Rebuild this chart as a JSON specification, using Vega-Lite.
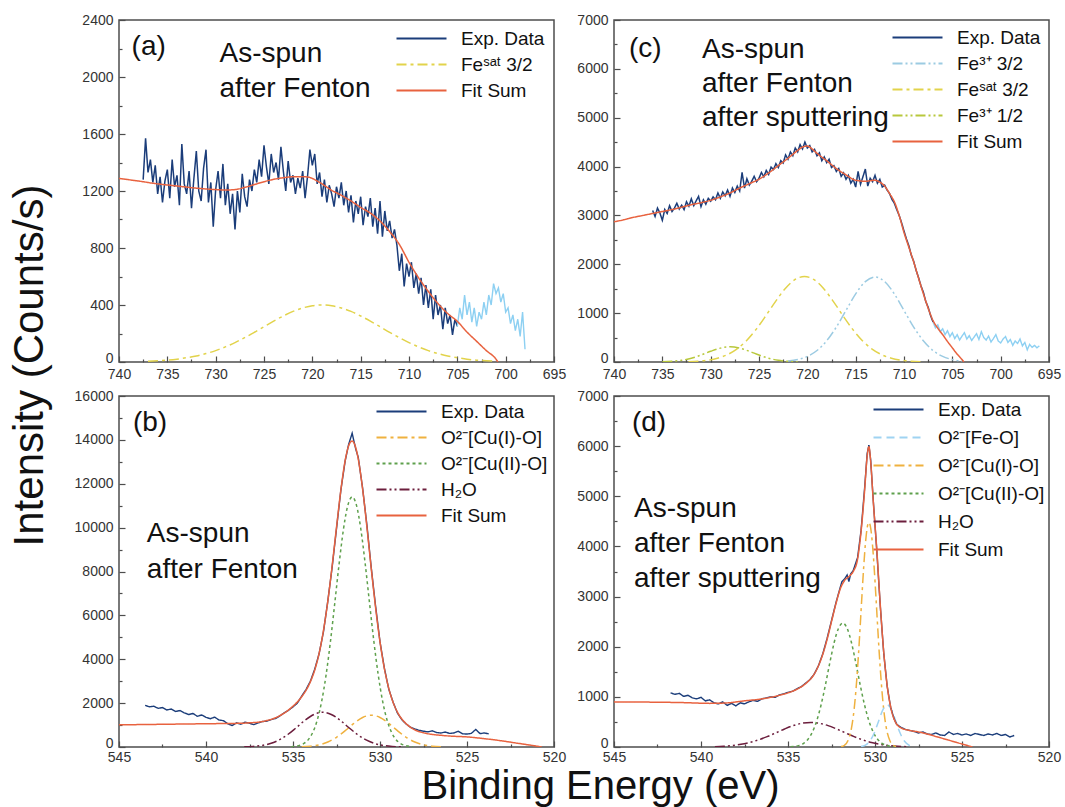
{
"$schema":"https://vega.github.io/schema/vega-lite/v6.json",
"padding":{"left":7,"top":12,"right":5,"bottom":5},
"config":{"view":{"stroke":"#4d4d4d","strokeWidth":1.5},
"axis":{"grid":false,"domain":false,"labelFont":"Liberation Sans","labelFontSize":14,"labelColor":"#333","tickColor":"#4d4d4d","tickWidth":1.2,"labelOverlap":false,"labelFlush":false},
"axisY":{"labelBaseline":{"condition":{"test":"datum.value === 0","value":"alphabetic"},"value":"middle"}},
"legend":{"labelFont":"Liberation Sans","labelFontSize":19,"labelColor":"#111","labelOffset":10,"padding":0,"rowPadding":6},
"text":{"font":"Liberation Sans"}},
"columns":2,"bounds":"flush","spacing":{"row":34,"column":60},
"resolve":{"scale":{"color":"independent","strokeDash":"independent"},"legend":{"color":"independent","strokeDash":"independent"}},
"datasets":{
"A":[
{"s":"s","x":737,"y":5},{"s":"s","x":736,"y":9},{"s":"s","x":735,"y":13},{"s":"s","x":734,"y":20},{"s":"s","x":733,"y":30},{"s":"s","x":732,"y":42},{"s":"s","x":731,"y":59},{"s":"s","x":730,"y":80},{"s":"s","x":729,"y":106},{"s":"s","x":728,"y":136},{"s":"s","x":727,"y":171},{"s":"s","x":726,"y":208},{"s":"s","x":725,"y":248},{"s":"s","x":724,"y":287},{"s":"s","x":723,"y":323},{"s":"s","x":722,"y":355},{"s":"s","x":721,"y":379},{"s":"s","x":720,"y":395},{"s":"s","x":719,"y":400},{"s":"s","x":718,"y":395},{"s":"s","x":717,"y":379},{"s":"s","x":716,"y":355},{"s":"s","x":715,"y":323},{"s":"s","x":714,"y":287},{"s":"s","x":713,"y":248},{"s":"s","x":712,"y":208},{"s":"s","x":711,"y":171},{"s":"s","x":710,"y":136},{"s":"s","x":709,"y":106},{"s":"s","x":708,"y":80},{"s":"s","x":707,"y":59},{"s":"s","x":706,"y":42},{"s":"s","x":705,"y":30},{"s":"s","x":704,"y":20},{"s":"s","x":703,"y":13},{"s":"s","x":702,"y":9},{"s":"s","x":701,"y":5},
{"s":"f","x":740,"y":1288},{"s":"f","x":738,"y":1270},{"s":"f","x":736,"y":1250},{"s":"f","x":734,"y":1235},{"s":"f","x":732,"y":1220},{"s":"f","x":730,"y":1210},{"s":"f","x":729,"y":1207},{"s":"f","x":728,"y":1210},{"s":"f","x":727,"y":1225},{"s":"f","x":726,"y":1245},{"s":"f","x":725,"y":1265},{"s":"f","x":724,"y":1282},{"s":"f","x":723,"y":1293},{"s":"f","x":722,"y":1300},{"s":"f","x":721,"y":1300},{"s":"f","x":720.3,"y":1296},{"s":"f","x":720,"y":1288},{"s":"f","x":719,"y":1250},{"s":"f","x":718,"y":1205},{"s":"f","x":717,"y":1170},{"s":"f","x":716,"y":1130},{"s":"f","x":715,"y":1085},{"s":"f","x":714,"y":1045},{"s":"f","x":713,"y":990},{"s":"f","x":712,"y":915},{"s":"f","x":711,"y":825},{"s":"f","x":710,"y":700},{"s":"f","x":709,"y":590},{"s":"f","x":708,"y":495},{"s":"f","x":707,"y":410},{"s":"f","x":706,"y":340},{"s":"f","x":705,"y":285},{"s":"f","x":704,"y":210},{"s":"f","x":703,"y":145},{"s":"f","x":702,"y":80},{"s":"f","x":701,"y":20},{"s":"f","x":700.8,"y":0},
{"s":"e","x":737.5,"y":1280},{"s":"e","x":737.25,"y":1570},{"s":"e","x":737,"y":1330},{"s":"e","x":736.75,"y":1420},{"s":"e","x":736.5,"y":1260},{"s":"e","x":736.25,"y":1380},{"s":"e","x":736,"y":1180},{"s":"e","x":735.75,"y":1300},{"s":"e","x":735.5,"y":1120},{"s":"e","x":735.25,"y":1270},{"s":"e","x":735,"y":1350},{"s":"e","x":734.75,"y":1150},{"s":"e","x":734.5,"y":1420},{"s":"e","x":734.25,"y":1230},{"s":"e","x":734,"y":1310},{"s":"e","x":733.75,"y":1100},{"s":"e","x":733.5,"y":1530},{"s":"e","x":733.25,"y":1250},{"s":"e","x":733,"y":1180},{"s":"e","x":732.75,"y":1340},{"s":"e","x":732.5,"y":1080},{"s":"e","x":732.25,"y":1290},{"s":"e","x":732,"y":1480},{"s":"e","x":731.75,"y":1200},{"s":"e","x":731.5,"y":1130},{"s":"e","x":731.25,"y":1360},{"s":"e","x":731,"y":1490},{"s":"e","x":730.75,"y":1120},{"s":"e","x":730.5,"y":1260},{"s":"e","x":730.25,"y":950},{"s":"e","x":730,"y":1210},{"s":"e","x":729.75,"y":1340},{"s":"e","x":729.5,"y":1150},{"s":"e","x":729.25,"y":1390},{"s":"e","x":729,"y":1100},{"s":"e","x":728.75,"y":1250},{"s":"e","x":728.5,"y":1040},{"s":"e","x":728.25,"y":1180},{"s":"e","x":728,"y":930},{"s":"e","x":727.75,"y":1200},{"s":"e","x":727.5,"y":1050},{"s":"e","x":727.25,"y":1320},{"s":"e","x":727,"y":1160},{"s":"e","x":726.75,"y":1090},{"s":"e","x":726.5,"y":1280},{"s":"e","x":726.25,"y":1200},{"s":"e","x":726,"y":1350},{"s":"e","x":725.75,"y":1260},{"s":"e","x":725.5,"y":1420},{"s":"e","x":725.25,"y":1300},{"s":"e","x":725,"y":1520},{"s":"e","x":724.75,"y":1370},{"s":"e","x":724.5,"y":1250},{"s":"e","x":724.25,"y":1460},{"s":"e","x":724,"y":1330},{"s":"e","x":723.75,"y":1400},{"s":"e","x":723.5,"y":1280},{"s":"e","x":723.25,"y":1510},{"s":"e","x":723,"y":1340},{"s":"e","x":722.75,"y":1200},{"s":"e","x":722.5,"y":1410},{"s":"e","x":722.25,"y":1260},{"s":"e","x":722,"y":1310},{"s":"e","x":721.75,"y":1180},{"s":"e","x":721.5,"y":1290},{"s":"e","x":721.25,"y":1220},{"s":"e","x":721,"y":1340},{"s":"e","x":720.75,"y":1150},{"s":"e","x":720.5,"y":1300},{"s":"e","x":720.25,"y":1490},{"s":"e","x":720,"y":1380},{"s":"e","x":719.75,"y":1460},{"s":"e","x":719.5,"y":1250},{"s":"e","x":719.25,"y":1330},{"s":"e","x":719,"y":1160},{"s":"e","x":718.75,"y":1280},{"s":"e","x":718.5,"y":1120},{"s":"e","x":718.25,"y":1240},{"s":"e","x":718,"y":1180},{"s":"e","x":717.75,"y":1090},{"s":"e","x":717.5,"y":1230},{"s":"e","x":717.25,"y":1150},{"s":"e","x":717,"y":1260},{"s":"e","x":716.75,"y":1100},{"s":"e","x":716.5,"y":1200},{"s":"e","x":716.25,"y":1050},{"s":"e","x":716,"y":1170},{"s":"e","x":715.75,"y":980},{"s":"e","x":715.5,"y":1130},{"s":"e","x":715.25,"y":1040},{"s":"e","x":715,"y":1160},{"s":"e","x":714.75,"y":960},{"s":"e","x":714.5,"y":1090},{"s":"e","x":714.25,"y":1020},{"s":"e","x":714,"y":1150},{"s":"e","x":713.75,"y":950},{"s":"e","x":713.5,"y":1080},{"s":"e","x":713.25,"y":900},{"s":"e","x":713,"y":1130},{"s":"e","x":712.75,"y":880},{"s":"e","x":712.5,"y":1060},{"s":"e","x":712.25,"y":920},{"s":"e","x":712,"y":990},{"s":"e","x":711.75,"y":870},{"s":"e","x":711.5,"y":930},{"s":"e","x":711.25,"y":820},{"s":"e","x":711,"y":640},{"s":"e","x":710.75,"y":760},{"s":"e","x":710.5,"y":530},{"s":"e","x":710.25,"y":690},{"s":"e","x":710,"y":600},{"s":"e","x":709.75,"y":700},{"s":"e","x":709.5,"y":520},{"s":"e","x":709.25,"y":620},{"s":"e","x":709,"y":480},{"s":"e","x":708.75,"y":590},{"s":"e","x":708.5,"y":400},{"s":"e","x":708.25,"y":540},{"s":"e","x":708,"y":380},{"s":"e","x":707.75,"y":510},{"s":"e","x":707.5,"y":300},{"s":"e","x":707.25,"y":470},{"s":"e","x":707,"y":330},{"s":"e","x":706.75,"y":400},{"s":"e","x":706.5,"y":230},{"s":"e","x":706.25,"y":380},{"s":"e","x":706,"y":270},{"s":"e","x":705.75,"y":330},{"s":"e","x":705.5,"y":190},{"s":"e","x":705.25,"y":300},{"s":"e","x":705,"y":250},
{"s":"t","x":705,"y":250},{"s":"t","x":704.75,"y":380},{"s":"t","x":704.5,"y":300},{"s":"t","x":704.25,"y":470},{"s":"t","x":704,"y":330},{"s":"t","x":703.75,"y":420},{"s":"t","x":703.5,"y":280},{"s":"t","x":703.25,"y":380},{"s":"t","x":703,"y":250},{"s":"t","x":702.75,"y":350},{"s":"t","x":702.5,"y":300},{"s":"t","x":702.25,"y":420},{"s":"t","x":702,"y":330},{"s":"t","x":701.75,"y":470},{"s":"t","x":701.5,"y":400},{"s":"t","x":701.25,"y":550},{"s":"t","x":701,"y":480},{"s":"t","x":700.75,"y":520},{"s":"t","x":700.5,"y":420},{"s":"t","x":700.25,"y":480},{"s":"t","x":700,"y":350},{"s":"t","x":699.75,"y":380},{"s":"t","x":699.5,"y":270},{"s":"t","x":699.25,"y":330},{"s":"t","x":699,"y":220},{"s":"t","x":698.75,"y":300},{"s":"t","x":698.5,"y":180},{"s":"t","x":698.25,"y":350},{"s":"t","x":698,"y":90}
],
"C":[
{"s":"a","x":722,"y":19},{"s":"a","x":721,"y":50},{"s":"a","x":720,"y":114},{"s":"a","x":719,"y":235},{"s":"a","x":718,"y":434},{"s":"a","x":717,"y":715},{"s":"a","x":716,"y":1055},{"s":"a","x":715,"y":1394},{"s":"a","x":714,"y":1646},{"s":"a","x":713,"y":1740},{"s":"a","x":712,"y":1646},{"s":"a","x":711,"y":1394},{"s":"a","x":710,"y":1055},{"s":"a","x":709,"y":715},{"s":"a","x":708,"y":434},{"s":"a","x":707,"y":235},{"s":"a","x":706,"y":114},{"s":"a","x":705,"y":50},{"s":"a","x":704,"y":19},
{"s":"s","x":732.3,"y":7},{"s":"s","x":731.3,"y":16},{"s":"s","x":730.3,"y":37},{"s":"s","x":729.3,"y":77},{"s":"s","x":728.3,"y":148},{"s":"s","x":727.3,"y":264},{"s":"s","x":726.3,"y":436},{"s":"s","x":725.3,"y":667},{"s":"s","x":724.3,"y":944},{"s":"s","x":723.3,"y":1237},{"s":"s","x":722.3,"y":1500},{"s":"s","x":721.3,"y":1684},{"s":"s","x":720.3,"y":1750},{"s":"s","x":719.3,"y":1684},{"s":"s","x":718.3,"y":1500},{"s":"s","x":717.3,"y":1237},{"s":"s","x":716.3,"y":944},{"s":"s","x":715.3,"y":667},{"s":"s","x":714.3,"y":436},{"s":"s","x":713.3,"y":264},{"s":"s","x":712.3,"y":148},{"s":"s","x":711.3,"y":77},{"s":"s","x":710.3,"y":37},{"s":"s","x":709.3,"y":16},{"s":"s","x":708.3,"y":7},
{"s":"b","x":735,"y":4},{"s":"b","x":734,"y":14},{"s":"b","x":733,"y":35},{"s":"b","x":732,"y":77},{"s":"b","x":731,"y":142},{"s":"b","x":730,"y":219},{"s":"b","x":729,"y":284},{"s":"b","x":728,"y":310},{"s":"b","x":727,"y":284},{"s":"b","x":726,"y":219},{"s":"b","x":725,"y":142},{"s":"b","x":724,"y":77},{"s":"b","x":723,"y":35},{"s":"b","x":722,"y":14},{"s":"b","x":721,"y":4},
{"s":"f","x":740,"y":2870},{"s":"f","x":739,"y":2910},{"s":"f","x":738,"y":2960},{"s":"f","x":737,"y":3000},{"s":"f","x":736,"y":3040},{"s":"f","x":735,"y":3080},{"s":"f","x":734,"y":3120},{"s":"f","x":733,"y":3170},{"s":"f","x":732,"y":3220},{"s":"f","x":731,"y":3260},{"s":"f","x":730,"y":3310},{"s":"f","x":729,"y":3380},{"s":"f","x":728,"y":3460},{"s":"f","x":727,"y":3560},{"s":"f","x":726,"y":3650},{"s":"f","x":725,"y":3740},{"s":"f","x":724,"y":3870},{"s":"f","x":723,"y":4020},{"s":"f","x":722,"y":4170},{"s":"f","x":721,"y":4330},{"s":"f","x":720.5,"y":4400},{"s":"f","x":720,"y":4420},{"s":"f","x":719.5,"y":4360},{"s":"f","x":719,"y":4270},{"s":"f","x":718,"y":4120},{"s":"f","x":717,"y":3960},{"s":"f","x":716,"y":3830},{"s":"f","x":715,"y":3720},{"s":"f","x":714,"y":3700},{"s":"f","x":713,"y":3720},{"s":"f","x":712.5,"y":3680},{"s":"f","x":712,"y":3600},{"s":"f","x":711.5,"y":3450},{"s":"f","x":711,"y":3280},{"s":"f","x":710.5,"y":3000},{"s":"f","x":710,"y":2650},{"s":"f","x":709.5,"y":2350},{"s":"f","x":709,"y":2050},{"s":"f","x":708.5,"y":1720},{"s":"f","x":708,"y":1400},{"s":"f","x":707.5,"y":1100},{"s":"f","x":707,"y":850},{"s":"f","x":706.5,"y":690},{"s":"f","x":706,"y":560},{"s":"f","x":705.5,"y":420},{"s":"f","x":705,"y":290},{"s":"f","x":704.5,"y":160},{"s":"f","x":704,"y":50},{"s":"f","x":703.8,"y":0},
{"s":"e","x":736,"y":3100},{"s":"e","x":735.75,"y":2980},{"s":"e","x":735.5,"y":3150},{"s":"e","x":735.25,"y":3050},{"s":"e","x":735,"y":2900},{"s":"e","x":734.75,"y":3120},{"s":"e","x":734.5,"y":3040},{"s":"e","x":734.25,"y":3200},{"s":"e","x":734,"y":3080},{"s":"e","x":733.75,"y":3150},{"s":"e","x":733.5,"y":3250},{"s":"e","x":733.25,"y":3130},{"s":"e","x":733,"y":3210},{"s":"e","x":732.75,"y":3120},{"s":"e","x":732.5,"y":3280},{"s":"e","x":732.25,"y":3190},{"s":"e","x":732,"y":3340},{"s":"e","x":731.75,"y":3200},{"s":"e","x":731.5,"y":3300},{"s":"e","x":731.25,"y":3390},{"s":"e","x":731,"y":3180},{"s":"e","x":730.75,"y":3320},{"s":"e","x":730.5,"y":3230},{"s":"e","x":730.25,"y":3350},{"s":"e","x":730,"y":3290},{"s":"e","x":729.75,"y":3380},{"s":"e","x":729.5,"y":3320},{"s":"e","x":729.25,"y":3460},{"s":"e","x":729,"y":3350},{"s":"e","x":728.75,"y":3480},{"s":"e","x":728.5,"y":3400},{"s":"e","x":728.25,"y":3520},{"s":"e","x":728,"y":3390},{"s":"e","x":727.75,"y":3560},{"s":"e","x":727.5,"y":3470},{"s":"e","x":727.25,"y":3600},{"s":"e","x":727,"y":3500},{"s":"e","x":726.75,"y":3880},{"s":"e","x":726.5,"y":3560},{"s":"e","x":726.25,"y":3750},{"s":"e","x":726,"y":3620},{"s":"e","x":725.75,"y":3700},{"s":"e","x":725.5,"y":3800},{"s":"e","x":725.25,"y":3690},{"s":"e","x":725,"y":3760},{"s":"e","x":724.75,"y":3880},{"s":"e","x":724.5,"y":3790},{"s":"e","x":724.25,"y":3920},{"s":"e","x":724,"y":3840},{"s":"e","x":723.75,"y":3990},{"s":"e","x":723.5,"y":3940},{"s":"e","x":723.25,"y":4060},{"s":"e","x":723,"y":3980},{"s":"e","x":722.75,"y":4120},{"s":"e","x":722.5,"y":4070},{"s":"e","x":722.25,"y":4240},{"s":"e","x":722,"y":4150},{"s":"e","x":721.75,"y":4300},{"s":"e","x":721.5,"y":4220},{"s":"e","x":721.25,"y":4380},{"s":"e","x":721,"y":4300},{"s":"e","x":720.75,"y":4450},{"s":"e","x":720.5,"y":4360},{"s":"e","x":720.25,"y":4500},{"s":"e","x":720,"y":4380},{"s":"e","x":719.75,"y":4430},{"s":"e","x":719.5,"y":4300},{"s":"e","x":719.25,"y":4350},{"s":"e","x":719,"y":4220},{"s":"e","x":718.75,"y":4280},{"s":"e","x":718.5,"y":4120},{"s":"e","x":718.25,"y":4200},{"s":"e","x":718,"y":4080},{"s":"e","x":717.75,"y":4150},{"s":"e","x":717.5,"y":3980},{"s":"e","x":717.25,"y":4020},{"s":"e","x":717,"y":3900},{"s":"e","x":716.75,"y":3960},{"s":"e","x":716.5,"y":3800},{"s":"e","x":716.25,"y":3870},{"s":"e","x":716,"y":3740},{"s":"e","x":715.75,"y":3820},{"s":"e","x":715.5,"y":3660},{"s":"e","x":715.25,"y":3740},{"s":"e","x":715,"y":3580},{"s":"e","x":714.75,"y":3900},{"s":"e","x":714.5,"y":3640},{"s":"e","x":714.25,"y":3790},{"s":"e","x":714,"y":3950},{"s":"e","x":713.75,"y":3600},{"s":"e","x":713.5,"y":3760},{"s":"e","x":713.25,"y":3690},{"s":"e","x":713,"y":3820},{"s":"e","x":712.75,"y":3660},{"s":"e","x":712.5,"y":3740},{"s":"e","x":712.25,"y":3580},{"s":"e","x":712,"y":3620},{"s":"e","x":711.75,"y":3520},{"s":"e","x":711.5,"y":3450},{"s":"e","x":711.25,"y":3330},{"s":"e","x":711,"y":3250},{"s":"e","x":710.75,"y":3120},{"s":"e","x":710.5,"y":3000},{"s":"e","x":710.25,"y":2850},{"s":"e","x":710,"y":2680},{"s":"e","x":709.75,"y":2520},{"s":"e","x":709.5,"y":2380},{"s":"e","x":709.25,"y":2190},{"s":"e","x":709,"y":2060},{"s":"e","x":708.75,"y":1880},{"s":"e","x":708.5,"y":1730},{"s":"e","x":708.25,"y":1560},{"s":"e","x":708,"y":1430},{"s":"e","x":707.75,"y":1240},{"s":"e","x":707.5,"y":1120},{"s":"e","x":707.25,"y":950},{"s":"e","x":707,"y":820},
{"s":"t","x":707,"y":820},{"s":"t","x":706.75,"y":700},{"s":"t","x":706.5,"y":760},{"s":"t","x":706.25,"y":620},{"s":"t","x":706,"y":680},{"s":"t","x":705.75,"y":560},{"s":"t","x":705.5,"y":640},{"s":"t","x":705.25,"y":520},{"s":"t","x":705,"y":600},{"s":"t","x":704.75,"y":480},{"s":"t","x":704.5,"y":560},{"s":"t","x":704.25,"y":450},{"s":"t","x":704,"y":530},{"s":"t","x":703.75,"y":600},{"s":"t","x":703.5,"y":470},{"s":"t","x":703.25,"y":540},{"s":"t","x":703,"y":440},{"s":"t","x":702.75,"y":510},{"s":"t","x":702.5,"y":580},{"s":"t","x":702.25,"y":460},{"s":"t","x":702,"y":620},{"s":"t","x":701.75,"y":500},{"s":"t","x":701.5,"y":450},{"s":"t","x":701.25,"y":530},{"s":"t","x":701,"y":410},{"s":"t","x":700.75,"y":480},{"s":"t","x":700.5,"y":560},{"s":"t","x":700.25,"y":430},{"s":"t","x":700,"y":390},{"s":"t","x":699.75,"y":470},{"s":"t","x":699.5,"y":520},{"s":"t","x":699.25,"y":400},{"s":"t","x":699,"y":460},{"s":"t","x":698.75,"y":340},{"s":"t","x":698.5,"y":430},{"s":"t","x":698.25,"y":380},{"s":"t","x":698,"y":470},{"s":"t","x":697.75,"y":330},{"s":"t","x":697.5,"y":400},{"s":"t","x":697.25,"y":250},{"s":"t","x":697,"y":360},{"s":"t","x":696.75,"y":300},{"s":"t","x":696.5,"y":340},{"s":"t","x":696.25,"y":290},{"s":"t","x":696,"y":330}
],
"B":[
{"s":"u","x":534.5,"y":13},{"s":"u","x":534,"y":39},{"s":"u","x":533.5,"y":101},{"s":"u","x":533,"y":228},{"s":"u","x":532.5,"y":444},{"s":"u","x":532,"y":745},{"s":"u","x":531.5,"y":1078},{"s":"u","x":531,"y":1347},{"s":"u","x":530.5,"y":1450},{"s":"u","x":530,"y":1347},{"s":"u","x":529.5,"y":1078},{"s":"u","x":529,"y":745},{"s":"u","x":528.5,"y":444},{"s":"u","x":528,"y":228},{"s":"u","x":527.5,"y":101},{"s":"u","x":527,"y":39},{"s":"u","x":526.5,"y":13},
{"s":"w","x":535.1,"y":13},{"s":"w","x":534.6,"y":78},{"s":"w","x":534.35,"y":172},{"s":"w","x":534.1,"y":357},{"s":"w","x":533.85,"y":690},{"s":"w","x":533.6,"y":1243},{"s":"w","x":533.35,"y":2090},{"s":"w","x":533.1,"y":3278},{"s":"w","x":532.85,"y":4797},{"s":"w","x":532.6,"y":6552},{"s":"w","x":532.35,"y":8348},{"s":"w","x":532.1,"y":9926},{"s":"w","x":531.85,"y":11012},{"s":"w","x":531.6,"y":11400},{"s":"w","x":531.35,"y":11012},{"s":"w","x":531.1,"y":9926},{"s":"w","x":530.85,"y":8348},{"s":"w","x":530.6,"y":6552},{"s":"w","x":530.35,"y":4797},{"s":"w","x":530.1,"y":3278},{"s":"w","x":529.85,"y":2090},{"s":"w","x":529.6,"y":1243},{"s":"w","x":529.35,"y":690},{"s":"w","x":529.1,"y":357},{"s":"w","x":528.85,"y":172},{"s":"w","x":528.6,"y":78},{"s":"w","x":528.1,"y":13},
{"s":"h","x":537.8,"y":9},{"s":"h","x":537.3,"y":27},{"s":"h","x":536.8,"y":69},{"s":"h","x":536.3,"y":159},{"s":"h","x":535.8,"y":321},{"s":"h","x":535.3,"y":570},{"s":"h","x":534.8,"y":890},{"s":"h","x":534.3,"y":1224},{"s":"h","x":533.8,"y":1482},{"s":"h","x":533.3,"y":1580},{"s":"h","x":532.8,"y":1482},{"s":"h","x":532.3,"y":1224},{"s":"h","x":531.8,"y":890},{"s":"h","x":531.3,"y":570},{"s":"h","x":530.8,"y":321},{"s":"h","x":530.3,"y":159},{"s":"h","x":529.8,"y":69},{"s":"h","x":529.3,"y":27},{"s":"h","x":528.8,"y":9},
{"s":"f","x":545,"y":1010},{"s":"f","x":543,"y":1030},{"s":"f","x":541,"y":1050},{"s":"f","x":539,"y":1070},{"s":"f","x":538,"y":1082},{"s":"f","x":537.5,"y":1102},{"s":"f","x":537,"y":1133},{"s":"f","x":536.5,"y":1206},{"s":"f","x":536,"y":1336},{"s":"f","x":535.5,"y":1548},{"s":"f","x":535,"y":1859},{"s":"f","x":534.5,"y":2292},{"s":"f","x":534,"y":2977},{"s":"f","x":533.75,"y":3512},{"s":"f","x":533.5,"y":4268},{"s":"f","x":533.25,"y":5303},{"s":"f","x":533,"y":6641},{"s":"f","x":532.75,"y":8256},{"s":"f","x":532.5,"y":10014},{"s":"f","x":532.25,"y":11705},{"s":"f","x":532,"y":13065},{"s":"f","x":531.8,"y":13734},{"s":"f","x":531.6,"y":13950},{"s":"f","x":531.4,"y":13660},{"s":"f","x":531.25,"y":13129},{"s":"f","x":531,"y":11766},{"s":"f","x":530.75,"y":10008},{"s":"f","x":530.5,"y":8115},{"s":"f","x":530.25,"y":6328},{"s":"f","x":530,"y":4795},{"s":"f","x":529.75,"y":3584},{"s":"f","x":529.5,"y":2683},{"s":"f","x":529.25,"y":2042},{"s":"f","x":529,"y":1593},{"s":"f","x":528.5,"y":1064},{"s":"f","x":528,"y":784},{"s":"f","x":527.5,"y":646},{"s":"f","x":527,"y":574},{"s":"f","x":526.5,"y":533},{"s":"f","x":526,"y":500},{"s":"f","x":525,"y":460},{"s":"f","x":524,"y":380},{"s":"f","x":523,"y":280},{"s":"f","x":522,"y":160},{"s":"f","x":521,"y":40},{"s":"f","x":520.7,"y":0},
{"s":"e","x":543.5,"y":1900},{"s":"e","x":543.25,"y":1830},{"s":"e","x":543,"y":1860},{"s":"e","x":542.75,"y":1760},{"s":"e","x":542.5,"y":1800},{"s":"e","x":542.25,"y":1690},{"s":"e","x":542,"y":1730},{"s":"e","x":541.75,"y":1620},{"s":"e","x":541.5,"y":1660},{"s":"e","x":541.25,"y":1560},{"s":"e","x":541,"y":1480},{"s":"e","x":540.75,"y":1530},{"s":"e","x":540.5,"y":1400},{"s":"e","x":540.25,"y":1460},{"s":"e","x":540,"y":1350},{"s":"e","x":539.75,"y":1290},{"s":"e","x":539.5,"y":1360},{"s":"e","x":539.25,"y":1230},{"s":"e","x":539,"y":1200},{"s":"e","x":538.75,"y":1060},{"s":"e","x":538.5,"y":980},{"s":"e","x":538.25,"y":1100},{"s":"e","x":538,"y":1040},{"s":"e","x":537.75,"y":1130},{"s":"e","x":537.5,"y":1080},{"s":"e","x":537.25,"y":1020},{"s":"e","x":537,"y":1100},{"s":"e","x":536.75,"y":1160},{"s":"e","x":536.5,"y":1180},{"s":"e","x":536.25,"y":1250},{"s":"e","x":536,"y":1300},{"s":"e","x":535.75,"y":1420},{"s":"e","x":535.5,"y":1560},{"s":"e","x":535.25,"y":1680},{"s":"e","x":535,"y":1830},{"s":"e","x":534.75,"y":2000},{"s":"e","x":534.5,"y":2320},{"s":"e","x":534.25,"y":2620},{"s":"e","x":534,"y":3000},{"s":"e","x":533.75,"y":3550},{"s":"e","x":533.5,"y":4250},{"s":"e","x":533.25,"y":5250},{"s":"e","x":533,"y":6650},{"s":"e","x":532.75,"y":8200},{"s":"e","x":532.5,"y":9950},{"s":"e","x":532.25,"y":11700},{"s":"e","x":532,"y":13050},{"s":"e","x":531.8,"y":13800},{"s":"e","x":531.6,"y":14300},{"s":"e","x":531.4,"y":13600},{"s":"e","x":531.25,"y":13200},{"s":"e","x":531,"y":11800},{"s":"e","x":530.75,"y":10100},{"s":"e","x":530.5,"y":8150},{"s":"e","x":530.25,"y":6400},{"s":"e","x":530,"y":4800},{"s":"e","x":529.75,"y":3600},{"s":"e","x":529.5,"y":2650},{"s":"e","x":529.25,"y":2050},{"s":"e","x":529,"y":1550},{"s":"e","x":528.75,"y":1250},{"s":"e","x":528.5,"y":1050},{"s":"e","x":528.25,"y":900},{"s":"e","x":528,"y":820},{"s":"e","x":527.75,"y":760},{"s":"e","x":527.5,"y":720},{"s":"e","x":527.25,"y":690},{"s":"e","x":527,"y":740},{"s":"e","x":526.75,"y":660},{"s":"e","x":526.5,"y":640},{"s":"e","x":526.25,"y":680},{"s":"e","x":526,"y":620},{"s":"e","x":525.75,"y":640},{"s":"e","x":525.5,"y":720},{"s":"e","x":525.25,"y":600},{"s":"e","x":525,"y":590},{"s":"e","x":524.75,"y":620},{"s":"e","x":524.5,"y":800},{"s":"e","x":524.25,"y":610},{"s":"e","x":524,"y":640},{"s":"e","x":523.75,"y":600}
],
"D":[
{"s":"h","x":539.2,"y":7},{"s":"h","x":538.7,"y":15},{"s":"h","x":538.2,"y":30},{"s":"h","x":537.7,"y":53},{"s":"h","x":537.2,"y":90},{"s":"h","x":536.7,"y":141},{"s":"h","x":536.2,"y":206},{"s":"h","x":535.7,"y":282},{"s":"h","x":535.2,"y":359},{"s":"h","x":534.7,"y":427},{"s":"h","x":534.2,"y":473},{"s":"h","x":533.7,"y":490},{"s":"h","x":533.2,"y":473},{"s":"h","x":532.7,"y":427},{"s":"h","x":532.2,"y":359},{"s":"h","x":531.7,"y":282},{"s":"h","x":531.2,"y":206},{"s":"h","x":530.7,"y":141},{"s":"h","x":530.2,"y":90},{"s":"h","x":529.7,"y":53},{"s":"h","x":529.2,"y":30},{"s":"h","x":528.7,"y":15},{"s":"h","x":528.2,"y":7},
{"s":"w","x":534.85,"y":5},{"s":"w","x":534.6,"y":13},{"s":"w","x":534.35,"y":33},{"s":"w","x":534.1,"y":74},{"s":"w","x":533.85,"y":155},{"s":"w","x":533.6,"y":297},{"s":"w","x":533.35,"y":521},{"s":"w","x":533.1,"y":838},{"s":"w","x":532.85,"y":1236},{"s":"w","x":532.6,"y":1674},{"s":"w","x":532.35,"y":2078},{"s":"w","x":532.1,"y":2365},{"s":"w","x":531.85,"y":2470},{"s":"w","x":531.6,"y":2365},{"s":"w","x":531.35,"y":2078},{"s":"w","x":531.1,"y":1674},{"s":"w","x":530.85,"y":1236},{"s":"w","x":530.6,"y":838},{"s":"w","x":530.35,"y":521},{"s":"w","x":530.1,"y":297},{"s":"w","x":529.85,"y":155},{"s":"w","x":529.6,"y":74},{"s":"w","x":529.35,"y":33},{"s":"w","x":529.1,"y":13},{"s":"w","x":528.85,"y":5},
{"s":"u","x":531.95,"y":8},{"s":"u","x":531.75,"y":35},{"s":"u","x":531.55,"y":128},{"s":"u","x":531.35,"y":380},{"s":"u","x":531.25,"y":606},{"s":"u","x":531.15,"y":922},{"s":"u","x":531.05,"y":1336},{"s":"u","x":530.95,"y":1842},{"s":"u","x":530.85,"y":2417},{"s":"u","x":530.75,"y":3018},{"s":"u","x":530.65,"y":3587},{"s":"u","x":530.55,"y":4059},{"s":"u","x":530.45,"y":4371},{"s":"u","x":530.35,"y":4480},{"s":"u","x":530.25,"y":4371},{"s":"u","x":530.15,"y":4059},{"s":"u","x":530.05,"y":3587},{"s":"u","x":529.95,"y":3018},{"s":"u","x":529.85,"y":2417},{"s":"u","x":529.75,"y":1842},{"s":"u","x":529.65,"y":1336},{"s":"u","x":529.55,"y":922},{"s":"u","x":529.45,"y":606},{"s":"u","x":529.35,"y":380},{"s":"u","x":529.15,"y":128},{"s":"u","x":528.95,"y":35},{"s":"u","x":528.75,"y":8},
{"s":"o","x":530.8,"y":9},{"s":"o","x":530.55,"y":37},{"s":"o","x":530.3,"y":114},{"s":"o","x":530.05,"y":273},{"s":"o","x":529.8,"y":509},{"s":"o","x":529.55,"y":741},{"s":"o","x":529.3,"y":840},{"s":"o","x":529.05,"y":741},{"s":"o","x":528.8,"y":509},{"s":"o","x":528.55,"y":273},{"s":"o","x":528.3,"y":114},{"s":"o","x":528.05,"y":37},{"s":"o","x":527.8,"y":9},
{"s":"f","x":545,"y":900},{"s":"f","x":543,"y":895},{"s":"f","x":541,"y":885},{"s":"f","x":539.5,"y":870},{"s":"f","x":538.5,"y":880},{"s":"f","x":537.5,"y":920},{"s":"f","x":536.5,"y":960},{"s":"f","x":536,"y":990},{"s":"f","x":535.5,"y":1030},{"s":"f","x":535,"y":1080},{"s":"f","x":534.5,"y":1150},{"s":"f","x":534,"y":1260},{"s":"f","x":533.5,"y":1450},{"s":"f","x":533.25,"y":1620},{"s":"f","x":533,"y":1850},{"s":"f","x":532.75,"y":2150},{"s":"f","x":532.5,"y":2500},{"s":"f","x":532.25,"y":2850},{"s":"f","x":532,"y":3150},{"s":"f","x":531.75,"y":3320},{"s":"f","x":531.5,"y":3400},{"s":"f","x":531.25,"y":3500},{"s":"f","x":531,"y":3750},{"s":"f","x":530.8,"y":4300},{"s":"f","x":530.6,"y":5100},{"s":"f","x":530.45,"y":5800},{"s":"f","x":530.35,"y":5990},{"s":"f","x":530.25,"y":5700},{"s":"f","x":530.1,"y":4900},{"s":"f","x":529.9,"y":3950},{"s":"f","x":529.7,"y":2850},{"s":"f","x":529.5,"y":1900},{"s":"f","x":529.3,"y":1220},{"s":"f","x":529.1,"y":800},{"s":"f","x":528.8,"y":480},{"s":"f","x":528.5,"y":380},{"s":"f","x":528,"y":330},{"s":"f","x":527.5,"y":300},{"s":"f","x":527,"y":260},{"s":"f","x":526.5,"y":210},{"s":"f","x":526,"y":160},{"s":"f","x":525.5,"y":110},{"s":"f","x":525,"y":60},{"s":"f","x":524.4,"y":0},
{"s":"e","x":541.75,"y":1080},{"s":"e","x":541.5,"y":1050},{"s":"e","x":541.25,"y":1070},{"s":"e","x":541,"y":1010},{"s":"e","x":540.75,"y":1030},{"s":"e","x":540.5,"y":980},{"s":"e","x":540.25,"y":960},{"s":"e","x":540,"y":990},{"s":"e","x":539.75,"y":920},{"s":"e","x":539.5,"y":940},{"s":"e","x":539.25,"y":880},{"s":"e","x":539,"y":860},{"s":"e","x":538.75,"y":900},{"s":"e","x":538.5,"y":830},{"s":"e","x":538.25,"y":870},{"s":"e","x":538,"y":820},{"s":"e","x":537.75,"y":880},{"s":"e","x":537.5,"y":860},{"s":"e","x":537.25,"y":900},{"s":"e","x":537,"y":930},{"s":"e","x":536.75,"y":910},{"s":"e","x":536.5,"y":960},{"s":"e","x":536.25,"y":980},{"s":"e","x":536,"y":1000},{"s":"e","x":535.75,"y":990},{"s":"e","x":535.5,"y":1040},{"s":"e","x":535.25,"y":1060},{"s":"e","x":535,"y":1090},{"s":"e","x":534.75,"y":1110},{"s":"e","x":534.5,"y":1160},{"s":"e","x":534.25,"y":1200},{"s":"e","x":534,"y":1270},{"s":"e","x":533.75,"y":1340},{"s":"e","x":533.5,"y":1450},{"s":"e","x":533.25,"y":1620},{"s":"e","x":533,"y":1860},{"s":"e","x":532.75,"y":2170},{"s":"e","x":532.5,"y":2520},{"s":"e","x":532.25,"y":2870},{"s":"e","x":532,"y":3180},{"s":"e","x":531.9,"y":3300},{"s":"e","x":531.75,"y":3350},{"s":"e","x":531.6,"y":3430},{"s":"e","x":531.5,"y":3300},{"s":"e","x":531.4,"y":3450},{"s":"e","x":531.25,"y":3520},{"s":"e","x":531,"y":3780},{"s":"e","x":530.8,"y":4320},{"s":"e","x":530.6,"y":5150},{"s":"e","x":530.45,"y":5850},{"s":"e","x":530.35,"y":6020},{"s":"e","x":530.25,"y":5730},{"s":"e","x":530.1,"y":4920},{"s":"e","x":529.9,"y":3930},{"s":"e","x":529.7,"y":2830},{"s":"e","x":529.5,"y":1880},{"s":"e","x":529.3,"y":1210},{"s":"e","x":529.1,"y":790},{"s":"e","x":528.9,"y":560},{"s":"e","x":528.75,"y":450},{"s":"e","x":528.5,"y":390},{"s":"e","x":528.25,"y":350},{"s":"e","x":528,"y":330},{"s":"e","x":527.75,"y":310},{"s":"e","x":527.5,"y":280},{"s":"e","x":527.25,"y":300},{"s":"e","x":527,"y":260},{"s":"e","x":526.75,"y":250},{"s":"e","x":526.5,"y":280},{"s":"e","x":526.25,"y":240},{"s":"e","x":526,"y":230},{"s":"e","x":525.75,"y":300},{"s":"e","x":525.5,"y":250},{"s":"e","x":525.25,"y":270},{"s":"e","x":525,"y":240},{"s":"e","x":524.75,"y":260},{"s":"e","x":524.5,"y":230},{"s":"e","x":524.25,"y":270},{"s":"e","x":524,"y":250},{"s":"e","x":523.75,"y":230},{"s":"e","x":523.5,"y":260},{"s":"e","x":523.25,"y":240},{"s":"e","x":523,"y":270},{"s":"e","x":522.75,"y":230},{"s":"e","x":522.5,"y":250},{"s":"e","x":522.25,"y":200},{"s":"e","x":522,"y":230}
]
},
"concat":[
{"width":435,"height":342,"data":{"name":"A"},
"encoding":{
"x":{"field":"x","type":"quantitative","scale":{"domain":[695,740],"reverse":true,"nice":false,"zero":false},"axis":{"values":[740,737.5,735,732.5,730,727.5,725,722.5,720,717.5,715,712.5,710,707.5,705,702.5,700,697.5,695],"labelExpr":"datum.value % 5 === 0 ? datum.label : ''","format":"d","tickSize":{"condition":{"test":"datum.value % 5 === 0","value":-6},"value":-3},"labelPadding":11,"title":null}},
"y":{"field":"y","type":"quantitative","scale":{"domain":[0,2400],"nice":false,"zero":false},"axis":{"values":[0,200,400,600,800,1000,1200,1400,1600,1800,2000,2200,2400],"labelExpr":"datum.value % 400 === 0 ? datum.label : ''","format":"d","tickSize":{"condition":{"test":"datum.value % 400 === 0","value":-6},"value":-3},"labelPadding":12,"title":"Intensity (Counts/s)","titleFont":"Liberation Sans","titleFontSize":42,"titleFontWeight":"normal","titleColor":"#111","titleX":-77,"titleY":345,"titleAngle":270,"titleBaseline":"alphabetic","titleAlign":"center"}},
"color":{"field":"s","type":"nominal","scale":{"domain":["e","s","f"],"range":["#1b3d7a","#e2d34b","#e8623f"]},"legend":{"title":null,"orient":"top-right","offset":9,"symbolType":"M-9,0H1","symbolSize":100,"symbolStrokeWidth":2,"labelExpr":"datum.label === 'e' ? 'Exp. Data' : datum.label === 's' ? 'Feˢᵃᵗ 3/2' : 'Fit Sum'"}},
"strokeDash":{"field":"s","type":"nominal","scale":{"domain":["e","s","f"],"range":[[1,0],[10,4,3,4],[1,0]]},"legend":{"title":null,"orient":"top-right","offset":9,"symbolType":"M-9,0H1","symbolSize":100,"symbolStrokeWidth":2,"labelExpr":"datum.label === 'e' ? 'Exp. Data' : datum.label === 's' ? 'Feˢᵃᵗ 3/2' : 'Fit Sum'"}}
},
"layer":[
{"transform":[{"filter":"datum.s === 's'"}],"mark":{"type":"line","strokeWidth":1.5,"clip":true,"interpolate":"monotone"}},
{"transform":[{"filter":"datum.s === 'e'"}],"mark":{"type":"line","strokeWidth":1.5,"clip":true}},
{"transform":[{"filter":"datum.s === 't'"}],"mark":{"type":"line","strokeWidth":1.4,"clip":true},"encoding":{"color":{"value":"#8dd0f2"},"strokeDash":{"value":[1,0]}}},
{"transform":[{"filter":"datum.s === 'f'"}],"mark":{"type":"line","strokeWidth":1.5,"clip":true,"interpolate":"monotone"}},
{"data":{"values":[{"x":738.7,"y":2154,"t":"(a)"},{"x":729.6,"y":2105,"t":"As-spun\nafter Fenton"}]},"mark":{"type":"text","align":"left","baseline":"alphabetic","fontSize":28,"lineHeight":35,"lineBreak":"\n","font":"Liberation Sans"},"encoding":{"text":{"field":"t"},"color":{"value":"#111"},"strokeDash":null}}
]},
{"width":435,"height":342,"data":{"name":"C"},
"encoding":{
"x":{"field":"x","type":"quantitative","scale":{"domain":[695,740],"reverse":true,"nice":false,"zero":false},"axis":{"values":[740,737.5,735,732.5,730,727.5,725,722.5,720,717.5,715,712.5,710,707.5,705,702.5,700,697.5,695],"labelExpr":"datum.value % 5 === 0 ? datum.label : ''","format":"d","tickSize":{"condition":{"test":"datum.value % 5 === 0","value":-6},"value":-3},"labelPadding":11,"title":null}},
"y":{"field":"y","type":"quantitative","scale":{"domain":[0,7000],"nice":false,"zero":false},"axis":{"values":[0,500,1000,1500,2000,2500,3000,3500,4000,4500,5000,5500,6000,6500,7000],"labelExpr":"datum.value % 1000 === 0 ? datum.label : ''","format":"d","tickSize":{"condition":{"test":"datum.value % 1000 === 0","value":-6},"value":-3},"labelPadding":12,"title":null}},
"color":{"field":"s","type":"nominal","scale":{"domain":["e","a","s","b","f"],"range":["#1b3d7a","#9ccbe2","#e2d34b","#b8c83c","#e8623f"]},"legend":{"title":null,"orient":"top-right","offset":8,"symbolType":"M-9,0H1","symbolSize":100,"symbolStrokeWidth":2,"labelExpr":"datum.label === 'e' ? 'Exp. Data' : datum.label === 'a' ? 'Fe³⁺ 3/2' : datum.label === 's' ? 'Feˢᵃᵗ 3/2' : datum.label === 'b' ? 'Fe³⁺ 1/2' : 'Fit Sum'"}},
"strokeDash":{"field":"s","type":"nominal","scale":{"domain":["e","a","s","b","f"],"range":[[1,0],[10,3,2,3,2,3],[10,4,3,4],[10,3,2,3,2,3],[1,0]]},"legend":{"title":null,"orient":"top-right","offset":8,"symbolType":"M-9,0H1","symbolSize":100,"symbolStrokeWidth":2,"labelExpr":"datum.label === 'e' ? 'Exp. Data' : datum.label === 'a' ? 'Fe³⁺ 3/2' : datum.label === 's' ? 'Feˢᵃᵗ 3/2' : datum.label === 'b' ? 'Fe³⁺ 1/2' : 'Fit Sum'"}}
},
"layer":[
{"transform":[{"filter":"datum.s === 'a' || datum.s === 's' || datum.s === 'b'"}],"mark":{"type":"line","strokeWidth":1.5,"clip":true,"interpolate":"monotone"}},
{"transform":[{"filter":"datum.s === 'e'"}],"mark":{"type":"line","strokeWidth":1.5,"clip":true}},
{"transform":[{"filter":"datum.s === 't'"}],"mark":{"type":"line","strokeWidth":1.4,"clip":true},"encoding":{"color":{"value":"#8dd0f2"},"strokeDash":{"value":[1,0]}}},
{"transform":[{"filter":"datum.s === 'f'"}],"mark":{"type":"line","strokeWidth":1.5,"clip":true,"interpolate":"monotone"}},
{"data":{"values":[{"x":738.45,"y":6243,"t":"(c)"},{"x":730.9,"y":6222,"t":"As-spun\nafter Fenton\nafter sputtering"}]},"mark":{"type":"text","align":"left","baseline":"alphabetic","fontSize":28,"lineHeight":34,"lineBreak":"\n","font":"Liberation Sans"},"encoding":{"text":{"field":"t"},"color":{"value":"#111"},"strokeDash":null}}
]},
{"width":435,"height":351,"data":{"name":"B"},
"encoding":{
"x":{"field":"x","type":"quantitative","scale":{"domain":[520,545],"reverse":true,"nice":false,"zero":false},"axis":{"values":[545,542.5,540,537.5,535,532.5,530,527.5,525,522.5,520],"labelExpr":"datum.value % 5 === 0 ? datum.label : ''","format":"d","tickSize":{"condition":{"test":"datum.value % 5 === 0","value":-6},"value":-3},"labelPadding":9,"title":"Binding Energy (eV)","titleFont":"Liberation Sans","titleFontSize":40,"titleFontWeight":"normal","titleColor":"#111","titleX":481,"titleY":51,"titleBaseline":"alphabetic","titleAlign":"center","titleAngle":0}},
"y":{"field":"y","type":"quantitative","scale":{"domain":[0,16000],"nice":false,"zero":false},"axis":{"values":[0,1000,2000,3000,4000,5000,6000,7000,8000,9000,10000,11000,12000,13000,14000,15000,16000],"labelExpr":"datum.value % 2000 === 0 ? datum.label : ''","format":"d","tickSize":{"condition":{"test":"datum.value % 2000 === 0","value":-6},"value":-3},"labelPadding":12,"title":null}},
"color":{"field":"s","type":"nominal","scale":{"domain":["e","u","w","h","f"],"range":["#1b3d7a","#efb13f","#5ea04c","#6c1e3d","#e8623f"]},"legend":{"title":null,"orient":"top-right","offset":6,"symbolType":"M-9,0H1","symbolSize":100,"symbolStrokeWidth":2,"labelExpr":"datum.label === 'e' ? 'Exp. Data' : datum.label === 'u' ? 'O²⁻[Cu(I)-O]' : datum.label === 'w' ? 'O²⁻[Cu(II)-O]' : datum.label === 'h' ? 'H₂O' : 'Fit Sum'"}},
"strokeDash":{"field":"s","type":"nominal","scale":{"domain":["e","u","w","h","f"],"range":[[1,0],[10,4,3,4],[3,3],[10,3,2,3,2,3],[1,0]]},"legend":{"title":null,"orient":"top-right","offset":6,"symbolType":"M-9,0H1","symbolSize":100,"symbolStrokeWidth":2,"labelExpr":"datum.label === 'e' ? 'Exp. Data' : datum.label === 'u' ? 'O²⁻[Cu(I)-O]' : datum.label === 'w' ? 'O²⁻[Cu(II)-O]' : datum.label === 'h' ? 'H₂O' : 'Fit Sum'"}}
},
"layer":[
{"transform":[{"filter":"datum.s === 'u' || datum.s === 'w' || datum.s === 'h'"}],"mark":{"type":"line","strokeWidth":1.5,"clip":true,"interpolate":"monotone"}},
{"transform":[{"filter":"datum.s === 'e'"}],"mark":{"type":"line","strokeWidth":1.4,"clip":true}},
{"transform":[{"filter":"datum.s === 'f'"}],"mark":{"type":"line","strokeWidth":1.5,"clip":true,"interpolate":"monotone"}},
{"data":{"values":[{"x":544.2,"y":14405,"t":"(b)"},{"x":543.4,"y":9345,"t":"As-spun\nafter Fenton"}]},"mark":{"type":"text","align":"left","baseline":"alphabetic","fontSize":28,"lineHeight":36,"lineBreak":"\n","font":"Liberation Sans"},"encoding":{"text":{"field":"t"},"color":{"value":"#111"},"strokeDash":null}}
]},
{"width":435,"height":351,"data":{"name":"D"},
"encoding":{
"x":{"field":"x","type":"quantitative","scale":{"domain":[520,545],"reverse":true,"nice":false,"zero":false},"axis":{"values":[545,542.5,540,537.5,535,532.5,530,527.5,525,522.5,520],"labelExpr":"datum.value % 5 === 0 ? datum.label : ''","format":"d","tickSize":{"condition":{"test":"datum.value % 5 === 0","value":-6},"value":-3},"labelPadding":9,"title":null}},
"y":{"field":"y","type":"quantitative","scale":{"domain":[0,7000],"nice":false,"zero":false},"axis":{"values":[0,500,1000,1500,2000,2500,3000,3500,4000,4500,5000,5500,6000,6500,7000],"labelExpr":"datum.value % 1000 === 0 ? datum.label : ''","format":"d","tickSize":{"condition":{"test":"datum.value % 1000 === 0","value":-6},"value":-3},"labelPadding":12,"title":null}},
"color":{"field":"s","type":"nominal","scale":{"domain":["e","o","u","w","h","f"],"range":["#1b3d7a","#9fd3f2","#efb13f","#5ea04c","#6c1e3d","#e8623f"]},"legend":{"title":null,"orient":"top-right","offset":4,"rowPadding":8,"symbolType":"M-9,0H1","symbolSize":100,"symbolStrokeWidth":2,"labelExpr":"datum.label === 'e' ? 'Exp. Data' : datum.label === 'o' ? 'O²⁻[Fe-O]' : datum.label === 'u' ? 'O²⁻[Cu(I)-O]' : datum.label === 'w' ? 'O²⁻[Cu(II)-O]' : datum.label === 'h' ? 'H₂O' : 'Fit Sum'"}},
"strokeDash":{"field":"s","type":"nominal","scale":{"domain":["e","o","u","w","h","f"],"range":[[1,0],[8,5],[10,4,3,4],[3,3],[10,3,2,3,2,3],[1,0]]},"legend":{"title":null,"orient":"top-right","offset":4,"rowPadding":8,"symbolType":"M-9,0H1","symbolSize":100,"symbolStrokeWidth":2,"labelExpr":"datum.label === 'e' ? 'Exp. Data' : datum.label === 'o' ? 'O²⁻[Fe-O]' : datum.label === 'u' ? 'O²⁻[Cu(I)-O]' : datum.label === 'w' ? 'O²⁻[Cu(II)-O]' : datum.label === 'h' ? 'H₂O' : 'Fit Sum'"}}
},
"layer":[
{"transform":[{"filter":"datum.s === 'o' || datum.s === 'u' || datum.s === 'w' || datum.s === 'h'"}],"mark":{"type":"line","strokeWidth":1.5,"clip":true,"interpolate":"monotone"}},
{"transform":[{"filter":"datum.s === 'e'"}],"mark":{"type":"line","strokeWidth":1.4,"clip":true}},
{"transform":[{"filter":"datum.s === 'f'"}],"mark":{"type":"line","strokeWidth":1.5,"clip":true,"interpolate":"monotone"}},
{"data":{"values":[{"x":543.97,"y":6302,"t":"(d)"},{"x":543.85,"y":4587,"t":"As-spun\nafter Fenton\nafter sputtering"}]},"mark":{"type":"text","align":"left","baseline":"alphabetic","fontSize":28,"lineHeight":35,"lineBreak":"\n","font":"Liberation Sans"},"encoding":{"text":{"field":"t"},"color":{"value":"#111"},"strokeDash":null}}
]}
]
}
